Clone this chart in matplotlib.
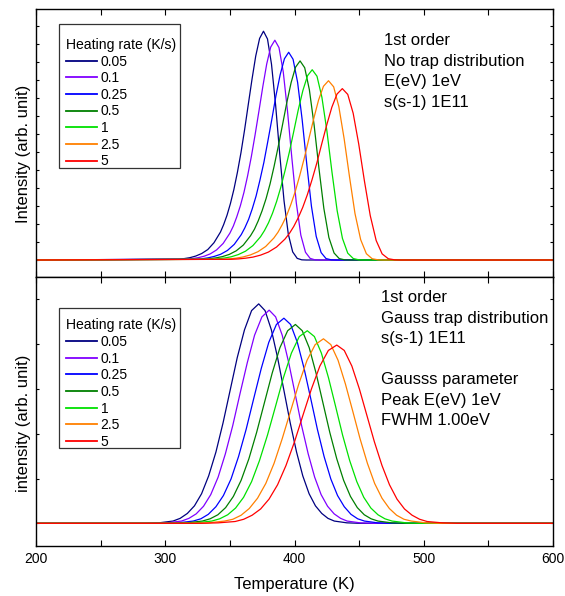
import matplotlib
matplotlib.use('Agg')
import matplotlib.pyplot as plt
from matplotlib.ticker import MultipleLocator
from matplotlib.patches import Rectangle

# heating rates (K/s) and line colours
rates = ['0.05', '0.1', '0.25', '0.5', '1', '2.5', '5']
colours = ['#000080', '#8000ff', '#0000ff', '#007f00', '#00e000', '#ff8000', '#ff0000']

# top panel: 1st order, no trap distribution (temperature in K, intensity arb.)
top_temp = [
    [200, 310.6, 314.8, 319.1, 323.6, 328.2, 332.9, 337.7, 342.7, 345.2, 347.8, 350.4, 353.1, 355.8, 358.6, 361.4,
     364.2, 367.1, 370.0, 373.0, 376.0, 379.1, 382.2, 385.4, 388.6, 391.9, 395.2, 398.6, 402.1, 405.6, 409.1, 600],
    [200, 316.6, 321.0, 325.5, 330.1, 334.8, 339.7, 344.8, 350.0, 352.7, 355.3, 358.1, 360.9, 363.7, 366.6, 369.5,
     372.5, 375.5, 378.5, 381.6, 384.8, 388.0, 391.3, 394.6, 398.0, 401.4, 404.9, 408.5, 412.1, 415.8, 419.6, 600],
    [200, 323.8, 328.4, 333.1, 337.9, 342.9, 348.1, 353.4, 358.8, 361.6, 364.5, 367.3, 370.3, 373.2, 376.3, 379.3,
     382.5, 385.6, 388.9, 392.2, 395.5, 398.9, 402.4, 405.9, 409.5, 413.1, 416.8, 420.6, 424.4, 428.4, 432.3, 600],
    [200, 329.7, 334.4, 339.3, 344.3, 349.5, 354.9, 360.4, 366.0, 369.0, 371.9, 374.9, 378.0, 381.1, 384.2, 387.4,
     390.7, 394.0, 397.4, 400.8, 404.3, 407.9, 411.5, 415.2, 418.9, 422.7, 426.6, 430.6, 434.6, 438.7, 442.9, 600],
    [200, 335.9, 340.8, 345.9, 351.1, 356.5, 362.1, 367.8, 373.7, 376.8, 379.9, 383.0, 386.2, 389.4, 392.7, 396.1,
     399.5, 402.9, 406.5, 410.1, 413.7, 417.4, 421.2, 425.1, 429.0, 433.0, 437.1, 441.2, 445.5, 449.8, 454.2, 600],
    [200, 344.1, 349.3, 354.6, 360.2, 365.8, 371.7, 377.7, 384.0, 387.2, 390.4, 393.8, 397.1, 400.6, 404.0, 407.6,
     411.2, 414.9, 418.6, 422.4, 426.3, 430.3, 434.3, 438.4, 442.6, 446.8, 451.2, 455.6, 460.1, 464.7, 469.4, 600],
    [200, 351.1, 356.5, 362.0, 367.8, 373.7, 379.8, 386.1, 392.6, 396.0, 399.4, 402.9, 406.4, 410.0, 413.6, 417.4,
     421.1, 425.0, 428.9, 432.9, 437.0, 441.2, 445.4, 449.7, 454.1, 458.6, 463.2, 467.8, 472.6, 477.5, 482.4, 600],
]
top_int = [
    [0, 0.05, 0.08, 0.13, 0.22, 0.36, 0.58, 0.96, 1.55, 1.97, 2.49, 3.13, 3.92, 4.86, 5.97, 7.24,
     8.62, 10.03, 11.33, 12.31, 12.71, 12.28, 10.88, 8.60, 5.86, 3.29, 1.44, 0.45, 0.09, 0.01, 0.0, 0],
    [0, 0.05, 0.08, 0.13, 0.21, 0.34, 0.56, 0.92, 1.49, 1.89, 2.39, 3.01, 3.76, 4.67, 5.74, 6.95,
     8.28, 9.64, 10.89, 11.83, 12.21, 11.80, 10.45, 8.26, 5.63, 3.17, 1.38, 0.43, 0.09, 0.01, 0.0, 0],
    [0, 0.04, 0.07, 0.12, 0.20, 0.32, 0.53, 0.87, 1.41, 1.79, 2.26, 2.84, 3.56, 4.42, 5.42, 6.57,
     7.83, 9.11, 10.29, 11.18, 11.54, 11.15, 9.87, 7.81, 5.32, 2.99, 1.31, 0.41, 0.08, 0.01, 0.0, 0],
    [0, 0.04, 0.07, 0.12, 0.19, 0.31, 0.51, 0.83, 1.35, 1.71, 2.17, 2.73, 3.41, 4.23, 5.20, 6.30,
     7.50, 8.73, 9.86, 10.71, 11.06, 10.68, 9.46, 7.48, 5.10, 2.87, 1.25, 0.39, 0.08, 0.01, 0.0, 0],
    [0, 0.04, 0.07, 0.11, 0.18, 0.30, 0.49, 0.80, 1.29, 1.64, 2.07, 2.60, 3.26, 4.04, 4.97, 6.02,
     7.17, 8.34, 9.42, 10.24, 10.57, 10.21, 9.04, 7.15, 4.88, 2.74, 1.20, 0.38, 0.08, 0.01, 0.0, 0],
    [0, 0.04, 0.06, 0.10, 0.17, 0.28, 0.46, 0.75, 1.22, 1.54, 1.95, 2.45, 3.07, 3.81, 4.68, 5.67,
     6.76, 7.86, 8.88, 9.65, 9.96, 9.62, 8.52, 6.74, 4.60, 2.58, 1.13, 0.35, 0.07, 0.01, 0.0, 0],
    [0, 0.04, 0.06, 0.10, 0.16, 0.27, 0.44, 0.72, 1.16, 1.47, 1.86, 2.35, 2.93, 3.64, 4.47, 5.42,
     6.46, 7.52, 8.49, 9.22, 9.52, 9.20, 8.15, 6.44, 4.39, 2.47, 1.08, 0.34, 0.07, 0.01, 0.0, 0],
]

# bottom panel: 1st order, gaussian trap distribution
bot_temp = [
    [200, 283.9, 295.0, 306.0, 311.5, 317.1, 322.6, 328.1, 333.6, 339.2, 344.7, 350.2, 355.7, 361.3, 366.8, 372.3,
     377.2, 382.1, 386.9, 391.8, 396.7, 401.6, 406.4, 411.3, 416.2, 421.1, 425.9, 430.8, 440.6, 450.3, 600],
    [200, 290.0, 301.3, 312.6, 318.3, 323.9, 329.6, 335.2, 340.9, 346.5, 352.2, 357.8, 363.5, 369.1, 374.8, 380.4,
     385.4, 390.5, 395.5, 400.5, 405.5, 410.6, 415.6, 420.6, 425.6, 430.7, 435.7, 440.7, 450.8, 460.8, 600],
    [200, 298.2, 309.9, 321.6, 327.5, 333.3, 339.2, 345.0, 350.9, 356.7, 362.6, 368.4, 374.3, 380.1, 386.0, 391.8,
     397.0, 402.2, 407.4, 412.6, 417.7, 422.9, 428.1, 433.3, 438.5, 443.7, 448.9, 454.1, 464.4, 474.8, 600],
    [200, 304.7, 316.7, 328.7, 334.7, 340.7, 346.7, 352.7, 358.7, 364.7, 370.7, 376.7, 382.7, 388.7, 394.7, 400.7,
     406.0, 411.4, 416.7, 422.0, 427.3, 432.7, 438.0, 443.3, 448.6, 454.0, 459.3, 464.6, 475.3, 485.9, 600],
    [200, 311.3, 323.6, 336.0, 342.1, 348.3, 354.4, 360.6, 366.8, 372.9, 379.1, 385.3, 391.4, 397.6, 403.7, 409.9,
     415.4, 420.8, 426.3, 431.8, 437.2, 442.7, 448.2, 453.6, 459.1, 464.6, 470.0, 475.5, 486.5, 497.4, 600],
    [200, 320.4, 333.2, 345.9, 352.3, 358.7, 365.0, 371.4, 377.8, 384.2, 390.5, 396.9, 403.3, 409.7, 416.0, 422.4,
     428.1, 433.7, 439.4, 445.1, 450.7, 456.4, 462.0, 467.7, 473.4, 479.0, 484.7, 490.4, 501.7, 513.0, 600],
    [200, 327.9, 341.0, 354.1, 360.7, 367.2, 373.8, 380.3, 386.9, 393.4, 400.0, 406.5, 413.1, 419.6, 426.2, 432.7,
     438.5, 444.4, 450.2, 456.0, 461.8, 467.7, 473.5, 479.3, 485.1, 491.0, 496.8, 502.6, 514.3, 525.9, 600],
]
bot_int = [
    [0, 0.00, 0.01, 0.05, 0.11, 0.22, 0.39, 0.66, 1.06, 1.59, 2.24, 2.97, 3.70, 4.32, 4.75, 4.90,
     4.75, 4.32, 3.70, 2.97, 2.24, 1.59, 1.06, 0.66, 0.39, 0.22, 0.11, 0.05, 0.01, 0.00, 0],
    [0, 0.00, 0.01, 0.05, 0.11, 0.21, 0.38, 0.64, 1.03, 1.55, 2.18, 2.89, 3.59, 4.20, 4.61, 4.76,
     4.61, 4.20, 3.59, 2.89, 2.18, 1.55, 1.03, 0.64, 0.38, 0.21, 0.11, 0.05, 0.01, 0.00, 0],
    [0, 0.00, 0.01, 0.05, 0.10, 0.20, 0.37, 0.62, 0.99, 1.49, 2.10, 2.78, 3.46, 4.04, 4.44, 4.58,
     4.44, 4.04, 3.46, 2.78, 2.10, 1.49, 0.99, 0.62, 0.37, 0.20, 0.10, 0.05, 0.01, 0.00, 0],
    [0, 0.00, 0.01, 0.05, 0.10, 0.19, 0.35, 0.60, 0.96, 1.44, 2.03, 2.69, 3.35, 3.92, 4.30, 4.44,
     4.30, 3.92, 3.35, 2.69, 2.03, 1.44, 0.96, 0.60, 0.35, 0.19, 0.10, 0.05, 0.01, 0.00, 0],
    [0, 0.00, 0.01, 0.05, 0.10, 0.19, 0.34, 0.58, 0.93, 1.40, 1.97, 2.61, 3.25, 3.80, 4.17, 4.30,
     4.17, 3.80, 3.25, 2.61, 1.97, 1.40, 0.93, 0.58, 0.34, 0.19, 0.10, 0.05, 0.01, 0.00, 0],
    [0, 0.00, 0.01, 0.05, 0.09, 0.18, 0.33, 0.56, 0.89, 1.34, 1.89, 2.50, 3.11, 3.64, 3.99, 4.12,
     3.99, 3.64, 3.11, 2.50, 1.89, 1.34, 0.89, 0.56, 0.33, 0.18, 0.09, 0.05, 0.01, 0.00, 0],
    [0, 0.00, 0.01, 0.04, 0.09, 0.18, 0.32, 0.54, 0.86, 1.29, 1.82, 2.41, 3.00, 3.51, 3.86, 3.98,
     3.86, 3.51, 3.00, 2.41, 1.82, 1.29, 0.86, 0.54, 0.32, 0.18, 0.09, 0.04, 0.01, 0.00, 0],
]

top_text = '1st order\nNo trap distribution\nE(eV) 1eV\ns(s-1) 1E11'
bot_text = ('1st order\nGauss trap distribution\ns(s-1) 1E11\n\n'
            'Gausss parameter\nPeak E(eV) 1eV\nFWHM 1.00eV')

plt.rcParams['font.family'] = ['Liberation Sans', 'DejaVu Sans']

W, H = 565, 596
fig = plt.figure(figsize=(W / 100, H / 100), dpi=100)
ax1 = fig.add_axes([36 / W, 1 - 277 / H, 517 / W, 268 / H])
ax2 = fig.add_axes([36 / W, 1 - 546 / H, 517 / W, 269 / H])

# (axes, temps, intensities, ylim, yticks, legend anchor y, legend box top/bottom in px)
panels = [(ax1, top_temp, top_int, (-0.944, 13.944), range(0, 14), 0.892, 24, 168),
          (ax2, bot_temp, bot_int, (-0.507, 5.50), range(0, 6), 0.846, 308, 448)]

for ax, temps, ints, ylim, yt, leg_y, box_top, box_bot in panels:
    for i in range(len(rates)):
        ax.plot(temps[i], ints[i], color=colours[i], lw=0.9, label=rates[i])
    ax.set_xlim(200, 600)
    ax.set_ylim(*ylim)
    ax.set_yticks(list(yt))
    ax.set_yticklabels([])
    ax.xaxis.set_major_locator(MultipleLocator(100))
    ax.xaxis.set_minor_locator(MultipleLocator(50))
    ax.tick_params(axis='both', which='both', direction='in', top=True, right=True,
                   width=0.8, labelsize=10, pad=4)
    ax.tick_params(axis='x', which='both', length=4)
    ax.tick_params(axis='y', which='both', length=2.5)
    for s in ax.spines.values():
        s.set_linewidth(1.0)
    leg = ax.legend(title='Heating rate (K/s)', loc='upper left', bbox_to_anchor=(0.058, leg_y),
                    borderaxespad=0, frameon=False, fontsize=10, title_fontsize=10.1,
                    handlelength=2.2, handletextpad=0.3, labelspacing=0.19, borderpad=0,
                    alignment='left')
    for line in leg.get_lines():
        line.set_linewidth(1.3)
    # legend frame
    fig.patches.append(Rectangle((59 / W, 1 - box_bot / H), 121 / W, (box_bot - box_top) / H,
                                 transform=fig.transFigure, fill=False, edgecolor='#333333',
                                 linewidth=0.9, zorder=5))

ax1.tick_params(labelbottom=False)

fig.text(384 / W, 1 - 33 / H, top_text, fontsize=12, va='top', ha='left', linespacing=1.46)
fig.text(381 / W, 1 - 290 / H, bot_text, fontsize=12, va='top', ha='left', linespacing=1.46)

fig.text(24 / W, 1 - 154 / H, 'Intensity (arb. unit)', rotation=90, fontsize=12, ha='center', va='center')
fig.text(24 / W, 1 - 423 / H, 'intensity (arb. unit)', rotation=90, fontsize=12, ha='center', va='center')
fig.text(294.5 / W, 1 - 584 / H, 'Temperature (K)', fontsize=12, ha='center', va='center')

fig.savefig('out.png', dpi=100)
